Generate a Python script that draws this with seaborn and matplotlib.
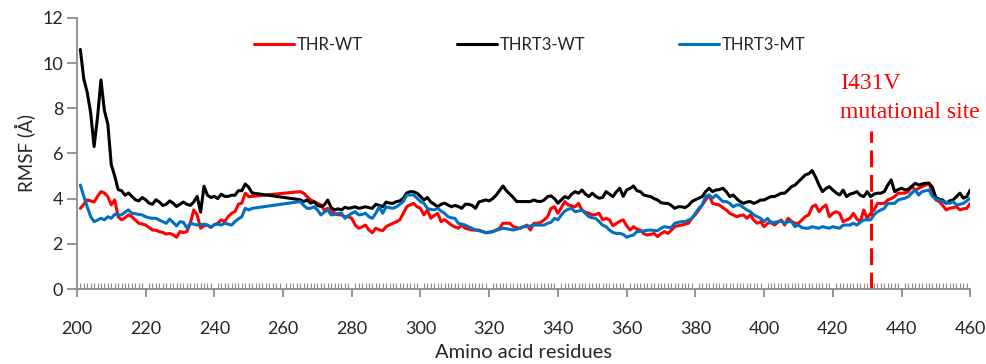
import numpy as np
import pandas as pd
import seaborn as sns
import matplotlib.pyplot as plt

sns.set_style('ticks')
plt.rcParams['font.family'] = ['Lato', 'DejaVu Sans']

# residue numbers: 201-251 then 265-460 (gap in between is just joined)
residues = list(range(201, 252)) + list(range(265, 461))

thr_wt = [
    3.57, 3.75, 3.94, 3.9, 3.85, 4.1, 4.31, 4.25, 4.09, 3.72,
    3.94, 3.2, 3.06, 3.15, 3.28, 3.2, 3.05, 2.91, 2.88, 2.83,
    2.72, 2.61, 2.6, 2.54, 2.5, 2.43, 2.46, 2.4, 2.29, 2.54,
    2.5, 2.54, 2.9, 3.5, 3.28, 2.69, 2.8, 2.83, 2.73, 2.85,
    2.91, 3.06, 2.98, 3.2, 3.35, 3.42, 3.75, 3.8, 4.24, 4.09,
    4.1,
    4.31, 4.24, 4.09, 3.95, 3.87, 3.8, 3.72, 3.5, 3.57, 3.42,
    3.35, 3.28, 3.28, 3.2, 3.2, 3.13, 2.83, 2.69, 2.75, 2.83,
    2.61, 2.49, 2.69, 2.62, 2.58, 2.76, 2.84, 2.91, 2.98, 3.06,
    3.35, 3.64, 3.72, 3.79, 3.64, 3.57, 3.28, 3.5, 3.13, 3.25,
    3.35, 2.98, 3.07, 2.95, 2.83, 2.75, 2.69, 2.83, 2.69, 2.65,
    2.61, 2.61, 2.61, 2.55, 2.49, 2.52, 2.54, 2.6, 2.69, 2.91,
    2.91, 2.91, 2.76, 2.72, 2.69, 2.76, 2.83, 2.61, 2.91, 2.91,
    2.95, 3.06, 3.2, 3.57, 3.64, 3.35, 3.6, 3.87, 3.72, 3.68,
    3.64, 3.79, 3.5, 3.4, 3.35, 3.28, 3.3, 3.35, 3.06, 3.13,
    3.06, 2.8, 2.9, 3.0, 3.06, 2.8, 2.61, 2.76, 2.65, 2.61,
    2.45, 2.39, 2.42, 2.46, 2.32, 2.45, 2.54, 2.46, 2.6, 2.76,
    2.8, 2.83, 2.87, 2.91, 3.13, 3.3, 3.5, 3.72, 3.94, 4.16,
    3.79, 3.75, 3.72, 3.6, 3.5, 3.35, 3.28, 3.2, 3.25, 3.28,
    3.13, 3.28, 3.05, 2.91, 2.98, 2.76, 2.9, 2.98, 2.83, 2.95,
    3.06, 2.83, 3.13, 3.0, 2.91, 2.91, 3.05, 3.2, 3.28, 3.64,
    3.72, 3.42, 3.6, 3.72, 3.2, 3.35, 3.42, 3.35, 2.98, 3.05,
    3.13, 3.35, 3.1, 2.98, 3.5, 3.13, 3.35, 3.5, 3.79, 3.79,
    3.79, 3.94, 4.0, 4.09, 4.24, 4.24, 4.24, 4.31, 4.53, 4.38,
    4.45, 4.53, 4.6, 4.68, 4.24, 3.94, 3.87, 3.7, 3.5, 3.57,
    3.6, 3.64, 3.5, 3.55, 3.57, 3.79,
]

thrt3_wt = [
    10.6, 9.3, 8.7, 7.8, 6.3, 7.6, 9.25, 7.9, 7.3, 5.5,
    5.0, 4.4, 4.35, 4.15, 4.25, 4.1, 3.95, 3.9, 4.05, 3.95,
    3.8, 3.75, 3.95, 3.85, 3.7, 3.75, 3.9, 3.8, 3.65, 3.75,
    3.85, 3.75, 3.7, 3.85, 4.1, 3.4, 4.55, 4.15, 4.05, 4.1,
    4.0, 4.2, 4.1, 4.1, 4.15, 4.15, 4.35, 4.35, 4.65, 4.5,
    4.25,
    3.95, 3.87, 3.94, 3.8, 3.87, 3.7, 3.65, 3.72, 3.94, 3.6,
    3.5, 3.55, 3.5, 3.62, 3.57, 3.6, 3.64, 3.57, 3.6, 3.64,
    3.6, 3.57, 3.75, 3.7, 3.64, 3.85, 3.8, 3.79, 3.87, 3.9,
    4.02, 4.25, 4.31, 4.3, 4.24, 4.1, 3.94, 4.05, 3.85, 3.75,
    3.64, 3.75, 3.8, 3.72, 3.64, 3.7, 3.65, 3.57, 3.75, 3.75,
    3.7, 3.57, 3.85, 3.9, 3.94, 3.9, 4.0, 4.15, 4.35, 4.56,
    4.35, 4.2, 4.05, 3.87, 3.87, 3.87, 3.87, 3.87, 3.94, 3.88,
    3.87, 3.94, 4.09, 4.12, 4.0, 3.8, 3.95, 4.09, 4.02, 4.2,
    4.31, 4.24, 4.38, 4.2, 4.09, 4.24, 4.1, 4.02, 4.05, 4.31,
    4.2, 4.09, 4.3, 4.46, 4.1, 4.38, 4.45, 4.56, 4.35, 4.31,
    4.16, 4.12, 4.09, 4.0, 3.94, 3.82, 3.79, 3.79, 3.7, 3.57,
    3.64, 3.64, 3.6, 3.7, 3.87, 3.95, 4.02, 4.09, 4.31, 4.46,
    4.31, 4.38, 4.4, 4.46, 4.31, 4.09, 4.16, 4.0, 3.87, 3.79,
    3.85, 3.87, 3.79, 3.85, 3.94, 3.94, 4.02, 4.09, 4.09, 4.16,
    4.24, 4.24, 4.38, 4.53, 4.6, 4.75, 4.9, 5.05, 5.1, 5.24,
    4.95, 4.6, 4.31, 4.45, 4.53, 4.38, 4.25, 4.16, 4.38, 4.09,
    4.2, 4.24, 4.31, 4.15, 4.09, 4.31, 4.09, 4.2, 4.24, 4.24,
    4.31, 4.6, 4.83, 4.31, 4.4, 4.46, 4.38, 4.42, 4.55, 4.68,
    4.6, 4.65, 4.68, 4.68, 4.5, 4.05, 3.97, 3.94, 3.79, 3.9,
    3.94, 4.09, 4.24, 4.02, 4.09, 4.38,
]

thrt3_mt = [
    4.6, 4.1, 3.64, 3.2, 2.98, 3.05, 3.13, 3.06, 3.2, 3.13,
    3.3, 3.28, 3.28, 3.4, 3.5, 3.35, 3.33, 3.3, 3.28, 3.2,
    3.15, 3.13, 3.13, 3.05, 2.98, 2.91, 3.09, 2.95, 2.79, 2.98,
    2.95, 2.7, 2.91, 2.87, 2.83, 2.85, 2.87, 2.83, 2.73, 2.85,
    2.87, 2.83, 2.91, 2.87, 2.83, 2.98, 3.1, 3.2, 3.57, 3.5,
    3.57,
    3.87, 3.7, 3.57, 3.57, 3.64, 3.5, 3.28, 3.4, 3.5, 3.28,
    3.3, 3.35, 3.35, 3.13, 3.25, 3.35, 3.42, 3.28, 3.3, 3.35,
    3.2, 3.13, 3.35, 3.64, 3.35, 3.64, 3.6, 3.57, 3.64, 3.75,
    3.87, 4.16, 4.16, 4.16, 4.02, 3.87, 3.79, 3.57, 3.52, 3.5,
    3.57, 3.45, 3.35, 3.2, 3.15, 3.13, 2.91, 2.87, 2.83, 2.75,
    2.69, 2.61, 2.58, 2.54, 2.49, 2.5, 2.54, 2.6, 2.64, 2.69,
    2.67, 2.64, 2.61, 2.65, 2.69, 2.76, 2.76, 2.79, 2.83, 2.83,
    2.83, 2.83, 2.91, 2.95, 3.13, 3.06, 3.28, 3.45, 3.53, 3.57,
    3.42, 3.45, 3.5, 3.35, 3.2, 3.15, 3.13, 2.98, 2.83, 2.76,
    2.61, 2.5, 2.46, 2.46, 2.42, 2.29, 2.35, 2.39, 2.54, 2.55,
    2.57, 2.6, 2.61, 2.59, 2.58, 2.69, 2.76, 2.73, 2.72, 2.91,
    2.95, 2.98, 2.98, 3.05, 3.13, 3.35, 3.57, 3.72, 4.09, 4.16,
    4.02, 4.16, 4.02, 3.87, 3.87, 3.79, 3.64, 3.72, 3.72, 3.6,
    3.5, 3.42, 3.28, 3.2, 3.13, 2.98, 3.13, 2.91, 2.95, 2.98,
    3.0, 2.91, 2.98, 2.98, 2.76, 2.83, 2.72, 2.69, 2.69, 2.76,
    2.72, 2.69, 2.76, 2.72, 2.69, 2.76, 2.72, 2.69, 2.83, 2.83,
    2.83, 2.91, 2.83, 2.95, 3.06, 3.06, 3.06, 3.28, 3.42, 3.5,
    3.57, 3.79, 3.79, 3.79, 3.94, 3.98, 4.02, 4.09, 4.25, 4.38,
    4.16, 4.31, 4.35, 4.38, 4.1, 3.98, 3.94, 3.87, 3.83, 3.79,
    3.87, 3.72, 3.75, 3.79, 3.9, 4.02,
]

names = ['THR-WT', 'THRT3-WT', 'THRT3-MT']
colors = ['#ff0000', '#000000', '#0070c0']
mut_site = 431

frames = []
for n, v in zip(names, [thr_wt, thrt3_wt, thrt3_mt]):
    frames.append(pd.DataFrame({'res': residues, 'rmsf': v, 'sample': n}))
df = pd.concat(frames, ignore_index=True)

fig = plt.figure(figsize=(9.86, 3.64), dpi=100)
ax = fig.add_axes([0.078, 0.206, 0.906, 0.745])

sns.lineplot(data=df, x='res', y='rmsf', hue='sample', palette=dict(zip(names, colors)),
             estimator=None, linewidth=2.2, ax=ax)

# mutation marker
ax.plot([mut_site, mut_site], [0, 7.0], color='#ff0000', lw=2.2, ls=(0, (5.5, 2.5)))
serif = ['Liberation Serif', 'DejaVu Serif']
ax.text(422.0, 9.1, 'I431V', color='#ff0000', fontsize=17, family=serif, va='center')
ax.text(422.0, 7.8, 'mutational site', color='#ff0000', fontsize=17, family=serif, va='center')

ax.set_xlim(200, 460)
ax.set_ylim(0, 12)
ax.set_xticks(np.arange(200, 461, 20))
ax.set_yticks(np.arange(0, 13, 2))
ax.set_xticks(np.arange(201, 461, 1), minor=True)

gray = '#8c8c8c'
for s in ['top', 'right']:
    ax.spines[s].set_visible(False)
for s in ['left', 'bottom']:
    ax.spines[s].set_color(gray)
    ax.spines[s].set_linewidth(1.3)
ax.tick_params(axis='x', which='major', direction='out', length=6, width=1.3,
               color=gray, pad=17, labelsize=13)
ax.tick_params(axis='x', which='minor', direction='in', length=4, width=0.8, color=gray)
ax.tick_params(axis='y', which='major', direction='out', length=7, width=1.3,
               color=gray, pad=3, labelsize=13)

ax.set_xlabel('Amino acid residues', fontsize=14.5, labelpad=5)
ax.set_ylabel('RMSF (Å)', fontsize=13.5, labelpad=5)

ax.legend(ncol=3, frameon=False, loc='center', bbox_to_anchor=(0.507, 0.9),
          fontsize=12, handlelength=2.4, handletextpad=0.2, columnspacing=5.6)

fig.savefig('out.png', dpi=100)
